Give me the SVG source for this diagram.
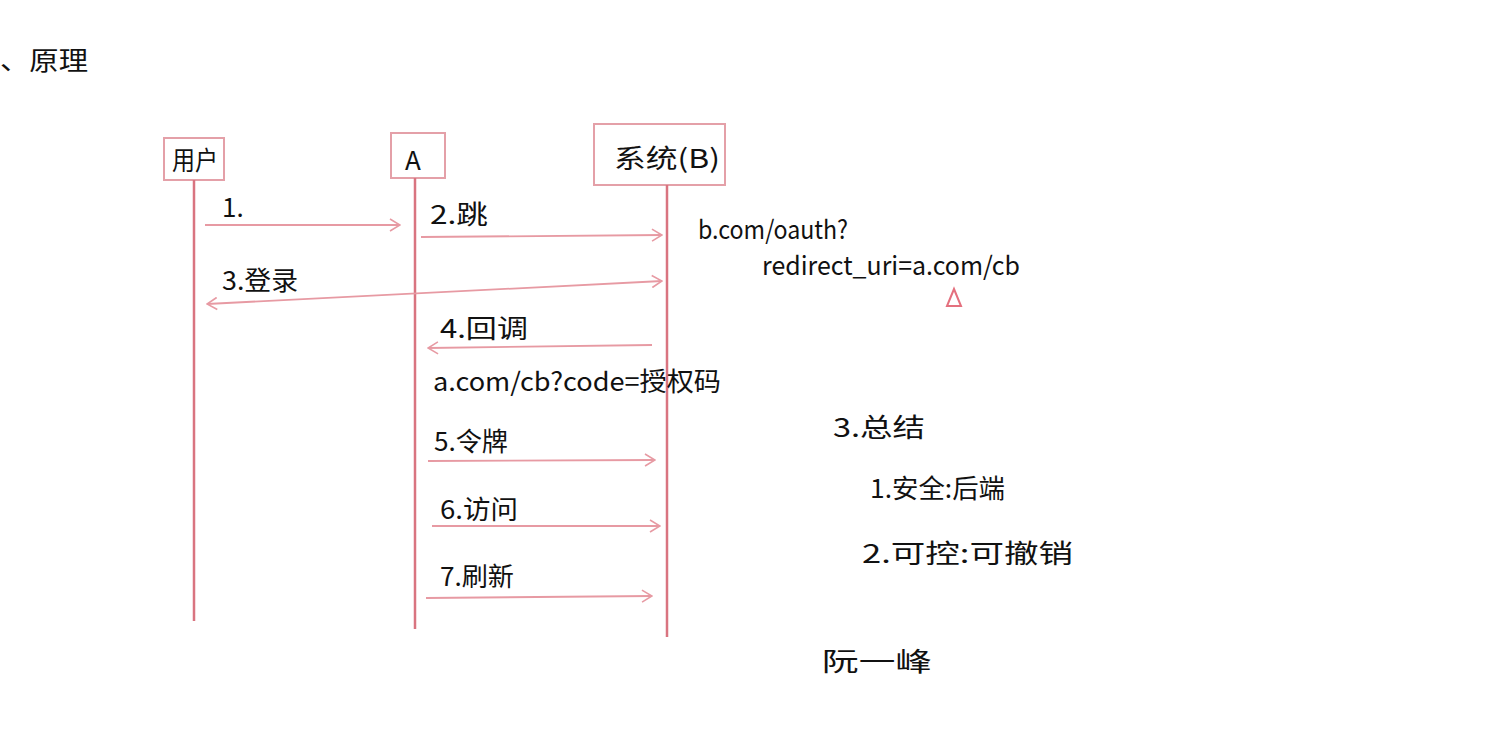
<svg xmlns="http://www.w3.org/2000/svg" width="1492" height="730" viewBox="0 0 1492 730">
<defs>
<marker id="open" viewBox="0 0 12 14" refX="11" refY="7" markerWidth="12" markerHeight="14" markerUnits="userSpaceOnUse" orient="auto-start-reverse">
<path d="M1,1 L11,7 L1,13" fill="none" stroke="#e79aa3" stroke-width="1.6"/>
</marker>
</defs>
<style>
.t{font-family:"Noto Sans CJK SC","Noto Sans",sans-serif;fill:#111;font-size:26px}
.box{fill:none;stroke:#e4a0a8;stroke-width:2}
.life{stroke:#d97480;stroke-width:2.5;fill:none}
.msg{stroke:#e79aa3;stroke-width:1.8;fill:none}
</style>
<rect width="1492" height="730" fill="#ffffff"/>
<text class="t" x="0" y="70" font-size="34" textLength="88" lengthAdjust="spacingAndGlyphs">、原理</text>
<g id="user">
<rect class="box" x="164" y="138" width="60" height="42"/>
<text class="t" x="172" y="170" textLength="46" lengthAdjust="spacingAndGlyphs">用户</text>
</g>
<g id="A">
<rect class="box" x="391" y="133" width="54" height="45"/>
<text class="t" x="405" y="170" font-size="30">A</text>
</g>
<g id="B">
<rect class="box" x="594" y="124" width="131" height="61"/>
<text class="t" x="614" y="168" font-size="30" textLength="106" lengthAdjust="spacingAndGlyphs">系统(B)</text>
</g>
<g id="lifelines">
<line class="life" x1="194" y1="180" x2="194" y2="621"/>
<line class="life" x1="415" y1="178" x2="415" y2="629"/>
<line class="life" x1="667" y1="185" x2="667" y2="637"/>
</g>
<g id="connectors">
<line class="msg" x1="205" y1="225" x2="400" y2="225" marker-end="url(#open)"/>
<line class="msg" x1="421" y1="237" x2="662" y2="235" marker-end="url(#open)"/>
<line class="msg" x1="207" y1="304" x2="662" y2="281" marker-start="url(#open)" marker-end="url(#open)"/>
<line class="msg" x1="652" y1="345" x2="428" y2="348" marker-end="url(#open)"/>
<line class="msg" x1="428" y1="461" x2="655" y2="460" marker-end="url(#open)"/>
<line class="msg" x1="432" y1="526" x2="660" y2="526" marker-end="url(#open)"/>
<line class="msg" x1="426" y1="598" x2="652" y2="596" marker-end="url(#open)"/>
</g>
<g id="labels">
<text class="t" x="222" y="217">1.</text>
<text class="t" x="430" y="224" textLength="58" lengthAdjust="spacingAndGlyphs">2.跳</text>
<text class="t" x="222" y="290" textLength="76" lengthAdjust="spacingAndGlyphs">3.登录</text>
<text class="t" x="440" y="338" textLength="88" lengthAdjust="spacingAndGlyphs">4.回调</text>
<text class="t" x="433" y="391" textLength="288" lengthAdjust="spacingAndGlyphs">a.com/cb?code=授权码</text>
<text class="t" x="434" y="451" textLength="74" lengthAdjust="spacingAndGlyphs">5.令牌</text>
<text class="t" x="440" y="519" textLength="78" lengthAdjust="spacingAndGlyphs">6.访问</text>
<text class="t" x="440" y="586" textLength="74" lengthAdjust="spacingAndGlyphs">7.刷新</text>
<text class="t" x="698" y="239" textLength="150" lengthAdjust="spacingAndGlyphs">b.com/oauth?</text>
<text class="t" x="762" y="275" textLength="258" lengthAdjust="spacingAndGlyphs">redirect_uri=a.com/cb</text>
<path d="M954,289 L947,306 L961,306 Z" fill="none" stroke="#e4707e" stroke-width="2"/>
<text class="t" x="833" y="437" font-size="28" textLength="92" lengthAdjust="spacingAndGlyphs">3.总结</text>
<text class="t" x="870" y="498" font-size="28" textLength="135" lengthAdjust="spacingAndGlyphs">1.安全:后端</text>
<text class="t" x="862" y="563" font-size="30" textLength="211" lengthAdjust="spacingAndGlyphs">2.可控:可撤销</text>
<text class="t" x="822" y="671" font-size="34" textLength="110" lengthAdjust="spacingAndGlyphs">阮一峰</text>
</g>
</svg>
